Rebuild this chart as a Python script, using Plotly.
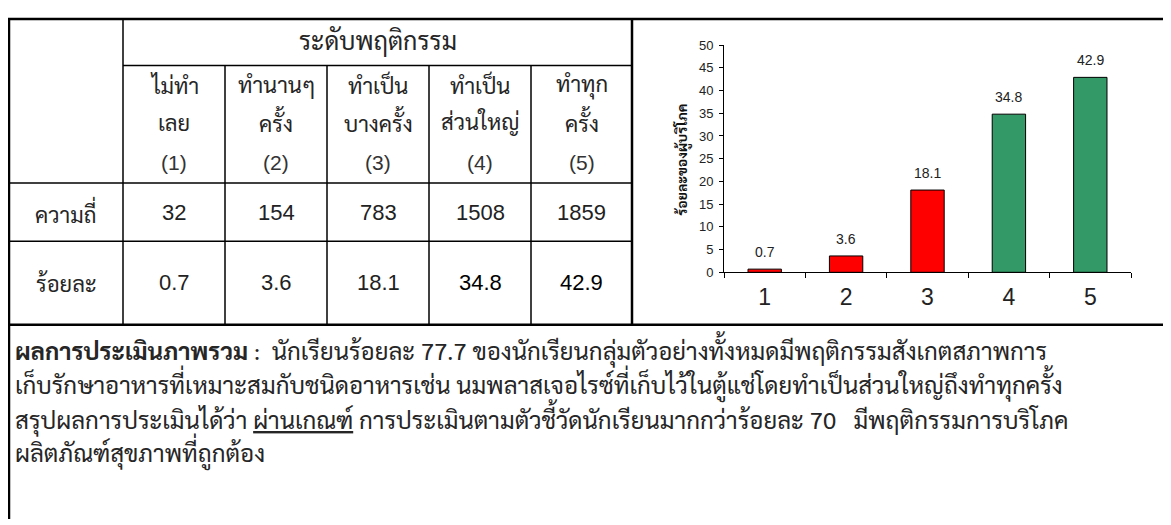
import plotly.graph_objects as go

# page (window) size and the default 8px body margin of the html page
PW, PH = 1171, 525
OFF = 8
W, H = PW - OFF, PH - OFF

# ---------------- data ----------------
levels = ["1", "2", "3", "4", "5"]
percent = [0.7, 3.6, 18.1, 34.8, 42.9]
frequency = [32, 154, 783, 1508, 1859]
level_line1 = ["ไม่ทำ", "ทำนานๆ", "ทำเป็น", "ทำเป็น", "ทำทุก"]
level_line2 = ["เลย", "ครั้ง", "บางครั้ง", "ส่วนใหญ่", "ครั้ง"]
level_code = ["(1)", "(2)", "(3)", "(4)", "(5)"]
row_labels = ["ความถี่", "ร้อยละ"]
group_title = "ระดับพฤติกรรม"
y_title = "ร้อยละของผู้บริโภค"
y_ticks = [0, 5, 10, 15, 20, 25, 30, 35, 40, 45, 50]
summary_lines = [
    "<b>ผลการประเมินภาพรวม</b> :  นักเรียนร้อยละ 77.7 ของนักเรียนกลุ่มตัวอย่างทั้งหมดมีพฤติกรรมสังเกตสภาพการ",
    "เก็บรักษาอาหารที่เหมาะสมกับชนิดอาหารเช่น นมพลาสเจอไรซ์ที่เก็บไว้ในตู้แช่โดยทำเป็นส่วนใหญ่ถึงทำทุกครั้ง",
    "สรุปผลการประเมินได้ว่า <u>ผ่านเกณฑ์</u> การประเมินตามตัวชี้วัดนักเรียนมากกว่าร้อยละ 70   มีพฤติกรรมการบริโภค",
    "ผลิตภัณฑ์สุขภาพที่ถูกต้อง",
]

# ---------------- styles / layout constants ----------------
RED = "#FF0000"
GREEN = "#339966"
bar_colors = [RED, RED, RED, GREEN, GREEN]
THAI = ("Umpush, Norasi, Kinnari, Laksaman, TH Sarabun New, Sarabun, Loma, Garuda, "
        "Noto Sans Thai Looped, Noto Serif Thai, Noto Sans Thai, sans-serif")
ARIAL = "Arial, Liberation Sans, sans-serif"

col_edges = [9, 123, 225, 327, 429, 531, 632]   # page px
row_lines = [12, 60, 181, 241, 327]               # page px


def fx(x):
    return (x - OFF) / W


def fy(y):
    return 1 - (y - OFF) / H


fig = go.Figure()
fig.add_trace(
    go.Bar(
        x=levels,
        y=percent,
        width=0.41,
        marker=dict(color=bar_colors, line=dict(color="black", width=1)),
        hoverinfo="skip",
        showlegend=False,
    )
)

shapes = []


def hline(y, x0, x1, w=1.5):
    shapes.append(dict(type="line", xref="paper", yref="paper",
                       x0=fx(x0), x1=fx(x1), y0=fy(y), y1=fy(y),
                       line=dict(color="black", width=w)))


def vline(x, y0, y1, w=1.5):
    shapes.append(dict(type="line", xref="paper", yref="paper",
                       x0=fx(x), x1=fx(x), y0=fy(y0), y1=fy(y1),
                       line=dict(color="black", width=w)))


hline(row_lines[0], col_edges[0] - 1, PW + 2, 2.5)
hline(row_lines[1], col_edges[1], col_edges[-1])
hline(row_lines[2], col_edges[0], col_edges[-1])
hline(row_lines[3], col_edges[0], col_edges[-1])
hline(row_lines[4], col_edges[0] - 1, PW + 2, 2.5)
vline(col_edges[0], row_lines[0], PH + 2, 2.5)
vline(col_edges[1], row_lines[0], row_lines[4])
for x in col_edges[2:-1]:
    vline(x, row_lines[1], row_lines[4])
vline(col_edges[-1], row_lines[0], row_lines[4], 2.5)

ann = []


def text(x, y, s, size, family=THAI, color="#262626", xanchor="center", **kw):
    ann.append(dict(xref="paper", yref="paper", x=fx(x), y=fy(y), text=s,
                    showarrow=False, xanchor=xanchor, yanchor="middle",
                    font=dict(size=size, family=family, color=color), **kw))


# table header
text((col_edges[1] + col_edges[-1]) / 2, 34, group_title, 25)
for i in range(5):
    cx = (col_edges[i + 1] + col_edges[i + 2]) / 2
    text(cx, 80, level_line1[i], 22)
    text(cx, 118, level_line2[i], 22)
    text(cx, 160, level_code[i], 21, family=ARIAL, color="#333")
    text(cx, 211, str(frequency[i]), 22, family=ARIAL, color="#222")
    strong = percent[i] >= 30
    text(cx, 284, f"{percent[i]:.1f}", 22, family=ARIAL,
         color="#000" if strong else "#222")
text((col_edges[0] + col_edges[1]) / 2, 211, row_labels[0], 22)
text((col_edges[0] + col_edges[1]) / 2, 284, row_labels[1], 22)

# summary paragraph
for k, line in enumerate(summary_lines):
    text(13, 353 + 35 * k, line, 24, xanchor="left")

# y axis title
text(683, 157, f"<b>{y_title}</b>", 14, textangle=-90, color="#111")

# bar value labels (data coordinates, category index)
for i, v in enumerate(percent):
    ann.append(dict(xref="x", yref="y", x=i, y=v, text=f"{v:.1f}",
                    showarrow=False, yanchor="middle", yshift=17,
                    font=dict(size=14, family=ARIAL, color="#222")))

fig.update_layout(
    width=W, height=H,
    margin=dict(l=0, r=0, t=0, b=0),
    paper_bgcolor="white", plot_bgcolor="white",
    shapes=shapes, annotations=ann,
    xaxis=dict(domain=[fx(724), fx(1131)], type="category",
               categoryorder="array", categoryarray=levels,
               range=[-0.5, 4.5], showline=True, linecolor="black", linewidth=1,
               ticks="outside", tickson="boundaries", ticklen=5, tickcolor="black",
               tickfont=dict(size=23, family=ARIAL, color="#222"),
               showgrid=False, zeroline=False, ticklabelstandoff=4),
    yaxis=dict(domain=[fy(273), fy(39)], range=[0, 50], tickvals=y_ticks,
               showline=True, linecolor="black", linewidth=1,
               ticks="outside", ticklen=4, tickcolor="black",
               tickfont=dict(size=13, family=ARIAL, color="#222"),
               showgrid=False, zeroline=False, ticklabelstandoff=3),
)

fig.write_html("out.html")
